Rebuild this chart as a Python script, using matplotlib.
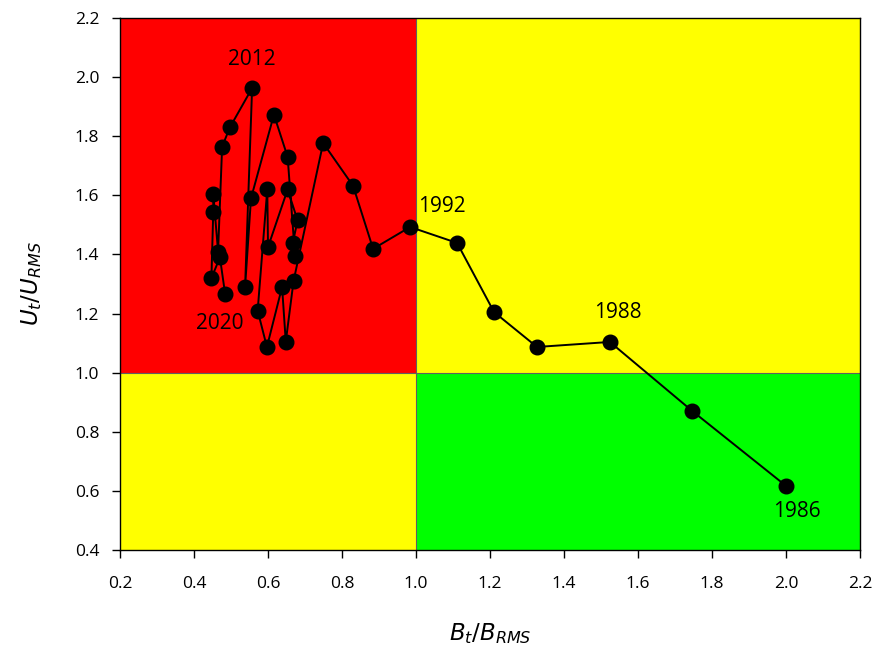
import matplotlib
matplotlib.use("Agg")
import matplotlib.pyplot as plt
from matplotlib.patches import Rectangle

years = list(range(1986, 2020)) + [2020]
bt_ratio = [2.00, 1.746, 1.524, 1.327, 1.211, 1.111, 0.984, 0.884, 0.830, 0.749,
            0.669, 0.648, 0.638, 0.597, 0.572, 0.598, 0.600, 0.653, 0.680, 0.667,
            0.673, 0.653, 0.616, 0.554, 0.538, 0.557, 0.497, 0.476, 0.465, 0.452,
            0.452, 0.447, 0.470, 0.484]
ut_ratio = [0.617, 0.871, 1.104, 1.087, 1.205, 1.439, 1.493, 1.419, 1.632, 1.777,
            1.310, 1.105, 1.290, 1.087, 1.210, 1.620, 1.425, 1.620, 1.515, 1.440,
            1.395, 1.730, 1.873, 1.590, 1.290, 1.963, 1.830, 1.765, 1.410, 1.605,
            1.545, 1.320, 1.390, 1.267]
label_years = ["1986", "1988", "1992", "2012", "2020"]
label_pos = [(2.03, 0.53), (1.546, 1.202), (1.07, 1.561), (0.557, 2.058), (0.47, 1.168)]
xticks = [0.2, 0.4, 0.6, 0.8, 1.0, 1.2, 1.4, 1.6, 1.8, 2.0, 2.2]
yticks = [0.4, 0.6, 0.8, 1.0, 1.2, 1.4, 1.6, 1.8, 2.0, 2.2]

plt.rcParams['font.family'] = ['Open Sans', 'DejaVu Sans']
plt.rcParams['mathtext.fontset'] = 'dejavusans'
fig = plt.figure(figsize=(8.78, 6.58), dpi=100)
ax = fig.add_axes([0.1367, 0.1641, 0.8428, 0.8085])
ax.set_xlim(0.2, 2.2)
ax.set_ylim(0.4, 2.2)

ax.add_patch(Rectangle((0.2, 1.0), 0.8, 1.2, facecolor='#FF0000', edgecolor='none', zorder=0))
ax.add_patch(Rectangle((1.0, 1.0), 1.2, 1.2, facecolor='#FFFF00', edgecolor='none', zorder=0))
ax.add_patch(Rectangle((0.2, 0.4), 0.8, 0.6, facecolor='#FFFF00', edgecolor='none', zorder=0))
ax.add_patch(Rectangle((1.0, 0.4), 1.2, 0.6, facecolor='#00FF00', edgecolor='none', zorder=0))
ax.axvline(1.0, color='#606060', lw=0.8, zorder=1)
ax.axhline(1.0, color='#606060', lw=0.8, zorder=1)

ax.plot(bt_ratio, ut_ratio, color='black', lw=1.4, marker='o', markersize=10.5,
        markerfacecolor='black', markeredgecolor='black', zorder=3)

for txt, (lx, ly) in zip(label_years, label_pos):
    ax.text(lx, ly, txt, ha='center', va='center', fontsize=15, color='black', zorder=4)

ax.set_xticks(xticks)
ax.set_yticks(yticks)
ax.set_xticklabels([f"{v:.1f}" for v in xticks])
ax.set_yticklabels([f"{v:.1f}" for v in yticks])
ax.tick_params(direction='out', length=6, width=1, labelsize=12.5, top=False, right=False)
ax.tick_params(axis='x', pad=13)
ax.tick_params(axis='y', pad=9)
for s in ax.spines.values():
    s.set_linewidth(1.0)
    s.set_color('black')

ax.set_xlabel(r'$B_t/B_{RMS}$', fontsize=16.5, labelpad=21)
ax.set_ylabel(r'$U_t/U_{RMS}$', fontsize=16.5, labelpad=22)

fig.savefig('out.png', dpi=100)
